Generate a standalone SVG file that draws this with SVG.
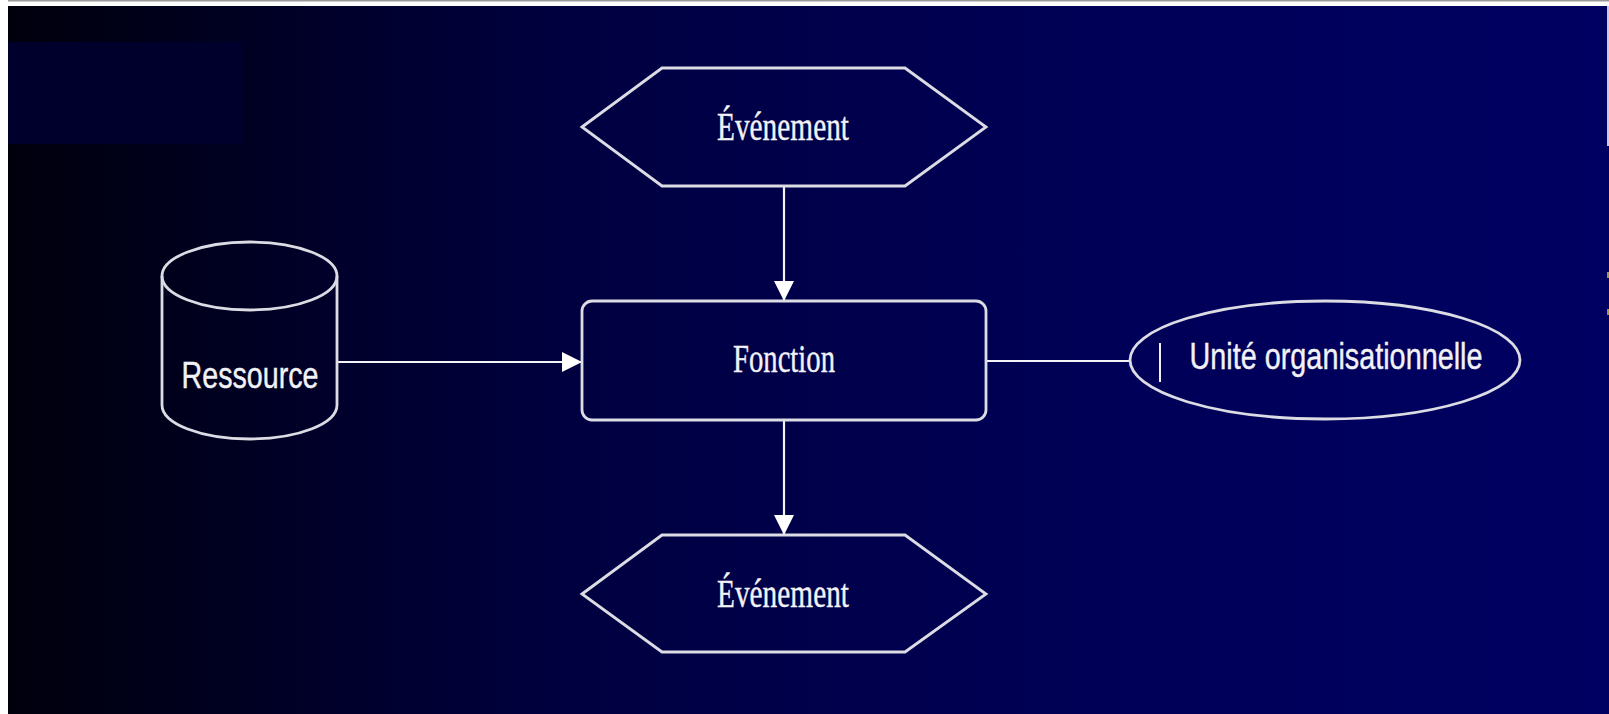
<svg xmlns="http://www.w3.org/2000/svg" width="1609" height="714" viewBox="0 0 1609 714">
  <defs>
    <linearGradient id="bg" x1="0" y1="0" x2="1" y2="0">
      <stop offset="0" stop-color="#00000c"/>
      <stop offset="0.35" stop-color="#000040"/>
      <stop offset="0.7" stop-color="#000058"/>
      <stop offset="1" stop-color="#000062"/>
    </linearGradient>
    <marker id="arr" viewBox="0 0 20 20" refX="20" refY="10" markerWidth="20" markerHeight="20" orient="auto" markerUnits="userSpaceOnUse">
      <path d="M0,0 L20,10 L0,20 z" fill="#ffffff"/>
    </marker>
    <style>
      .shape { fill: none; stroke: #dcdce4; stroke-width: 2.8; }
      .conn { fill: none; stroke: #f4f4f8; stroke-width: 2.2; }
      .serif { font-family: "Liberation Serif", "Times New Roman", serif; font-size: 40px; fill: #f2f2f6; stroke: #f2f2f6; stroke-width: 0.4; text-anchor: middle; }
      .sans { font-family: "Liberation Sans", Arial, sans-serif; font-size: 36px; fill: #f2f2f6; stroke: #f2f2f6; stroke-width: 0.4; text-anchor: middle; }
    </style>
  </defs>

  <!-- background -->
  <rect x="0" y="0" width="1609" height="714" fill="url(#bg)"/>
  <rect x="8" y="42" width="234" height="102" fill="#00002c"/>
  <!-- frame edges -->
  <rect x="0" y="0" width="1609" height="6" fill="#ffffff"/>
  <rect x="0" y="0" width="1609" height="1.5" fill="#9a9a9a"/>
  <rect x="0" y="0" width="8" height="714" fill="#ffffff"/>
  <rect x="1607" y="6" width="2" height="140" fill="#c8c8e8"/>
  <rect x="1607" y="272" width="2" height="6" fill="#9a9a40"/>
  <rect x="1607" y="309" width="2" height="6" fill="#9a9a40"/>

  <g id="connectors">
    <line class="conn" x1="784" y1="186" x2="784" y2="301" marker-end="url(#arr)"/>
    <line class="conn" x1="784" y1="420" x2="784" y2="535" marker-end="url(#arr)"/>
    <line class="conn" x1="337" y1="362" x2="582" y2="362" marker-end="url(#arr)"/>
    <line class="conn" x1="987" y1="361" x2="1130" y2="361"/>
  </g>

  <g id="event-top">
    <polygon class="shape" points="582,127 662,68 905,68 986,127 905,186 662,186"/>
    <text class="serif" x="783" y="140" textLength="132" lengthAdjust="spacingAndGlyphs">Événement</text>
  </g>

  <g id="function">
    <rect class="shape" x="582" y="301" width="404" height="119" rx="10" ry="10"/>
    <text class="serif" x="784" y="372" textLength="102" lengthAdjust="spacingAndGlyphs">Fonction</text>
  </g>

  <g id="event-bottom">
    <polygon class="shape" points="582,594 662,535 905,535 986,594 905,652 662,652"/>
    <text class="serif" x="783" y="607" textLength="132" lengthAdjust="spacingAndGlyphs">Événement</text>
  </g>

  <g id="resource">
    <path class="shape" d="M162,276 L162,405 A87.5,34 0 0 0 337,405 L337,276"/>
    <ellipse class="shape" cx="249.5" cy="276" rx="87.5" ry="34"/>
    <text class="sans" x="250" y="388" font-size="37" textLength="137" lengthAdjust="spacingAndGlyphs">Ressource</text>
  </g>

  <g id="org-unit">
    <ellipse class="shape" cx="1325" cy="360" rx="195" ry="59"/>
    <line x1="1160" y1="343" x2="1160" y2="382" stroke="#f0f0f4" stroke-width="2"/>
    <text class="sans" x="1336" y="369" textLength="293" lengthAdjust="spacingAndGlyphs">Unité organisationnelle</text>
  </g>
</svg>
